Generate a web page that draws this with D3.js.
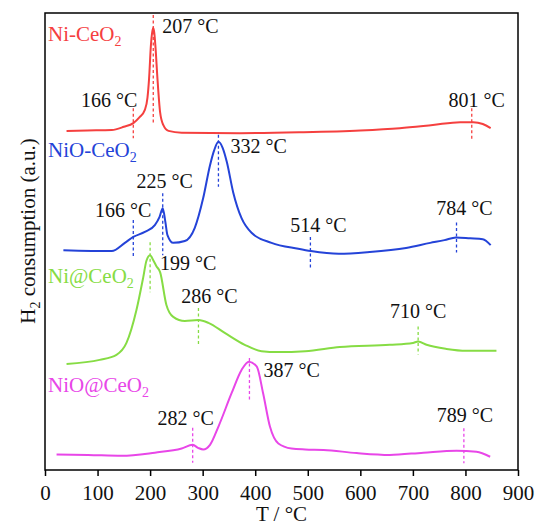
<!DOCTYPE html>
<meta charset="utf-8">
<head>
  <title>H2-TPR</title>
</head>
<style>
body { margin: 0; background: #fff; }
text { font-family: "Liberation Serif", "Times New Roman", serif; }
.curve { fill: none; stroke-width: 2px; }
.peak { stroke-width: 1.3px; stroke-dasharray: 3,2.5; }
</style>
<body>
<script src="https://d3js.org/d3.v7.min.js"></script>
<script>

// --- data (T in °C, signal in a.u.) ---
var names = ["Ni-CeO", "NiO-CeO", "Ni@CeO", "NiO@CeO"];
var colors = ["#f5403f", "#2443d8", "#86dc44", "#e846e8"];

var tNiCeO2 =  [41, 80, 127, 150, 168, 180, 190, 195, 198, 201.5, 204, 206, 208, 210, 214, 219, 225, 235, 260, 371, 485, 600, 675, 738, 790, 815, 833, 848];
var vNiCeO2 =  [74.2, 74.3, 74.4, 75.1, 75.9, 77.2, 78.8, 81.5, 85.6, 92.9, 95.8, 96.7, 95.6, 92.9, 85.6, 78.3, 75.5, 74.2, 73.8, 73.7, 73.9, 74.3, 74.8, 75.5, 76.1, 76.1, 75.7, 74.8];

var tNiOCeO2 = [35, 127, 152, 168, 190, 209, 218, 224, 229, 233, 244, 266, 285, 301, 314, 322, 330, 338, 346, 358, 374, 393, 431, 482, 506, 559, 618, 687, 733, 760, 782, 809, 833, 848];
var vNiOCeO2 = [48.1, 47.9, 49.7, 51.0, 52.1, 53.6, 55.4, 57.3, 54.3, 51.4, 49.7, 50.1, 53.0, 59.5, 66.7, 70.0, 71.8, 70.5, 67.4, 60.8, 55.1, 51.9, 49.7, 48.4, 47.9, 47.3, 47.7, 48.6, 49.7, 50.3, 50.9, 50.7, 50.5, 49.2];

var tNiAtCeO2 = [41, 104, 136, 155, 174, 187, 193, 200, 206, 212, 219, 231, 244, 266, 292, 311, 342, 380, 412, 443, 495, 561, 656, 700, 710, 726, 764, 802, 859];
var vNiAtCeO2 = [23.2, 24.1, 25.2, 27.8, 35.0, 42.2, 45.8, 47.0, 45.9, 44.6, 43.3, 36.1, 33.5, 32.6, 32.8, 32.2, 30.0, 27.4, 26.0, 25.8, 26.0, 26.9, 27.4, 27.8, 28.1, 27.4, 26.5, 26.1, 26.1];

var tNiOAtCeO2 = [22, 82, 146, 209, 260, 281, 292, 301, 314, 330, 355, 374, 388, 403, 415, 428, 444, 469, 495, 530, 593, 656, 720, 783, 821, 847];
var vNiOAtCeO2 = [3.4, 3.3, 3.1, 3.8, 4.7, 5.5, 4.8, 4.5, 5.5, 9.5, 16.8, 21.9, 23.7, 22.6, 16.8, 9.5, 5.8, 4.7, 4.5, 4.4, 3.7, 3.3, 3.8, 4.2, 4.0, 2.9];

// peak markers: where the dashed line sits, and the printed label
var peakT = [[168, 206, 812], [168, 224, 330, 505, 783], [200, 292, 710], [281, 389, 797]];
var peakLabels = [["166 °C", "207 °C", "801 °C"], ["166 °C", "225 °C", "332 °C", "514 °C", "784 °C"], ["199 °C", "286 °C", "710 °C"], ["282 °C", "387 °C", "789 °C"]];

var xTicks = [0, 100, 200, 300, 400, 500, 600, 700, 800, 900];

// --- layout (px): dash above/below curve, label anchor, dx, dy from dash top ---
var peakLayout = [
  [[15, 15, "end", 4, -1], [13, 97, "start", 9, 18], [14, 18, "middle", 5, -1]],
  [[17, 21, "middle", -10, -3], [15, 47, "middle", 2, -5], [7, 45, "start", 12, 18], [14, 17, "middle", 8, -5], [15, 15, "middle", 8, -7]],
  [[13, 37, "start", 10, 28], [12, 25, "middle", 11, -5], [15, 13, "middle", 0, -9]],
  [[17, 18, "middle", -7, -3], [4, 38, "start", 14, 19], [23, 12, "middle", 1, -6]]
];
var nameBaseline = [41, 157, 283, 392];

var width = 536, height = 525;
var m = {left: 45, top: 13, right: 518, bottom: 470};

var svg = d3.select("body").append("svg")
    .attr("width", width)
    .attr("height", height);

var x = d3.scaleLinear().domain([0, 900]).range([m.left, m.right]);
var y = d3.scaleLinear().domain([0, 100]).range([m.bottom, m.top]);

var series = [
  d3.zip(tNiCeO2, vNiCeO2),
  d3.zip(tNiOCeO2, vNiOCeO2),
  d3.zip(tNiAtCeO2, vNiAtCeO2),
  d3.zip(tNiOAtCeO2, vNiOAtCeO2)
];

var line = d3.line()
    .x(function(d) { return x(d[0]); })
    .y(function(d) { return y(d[1]); })
    .curve(d3.curveMonotoneX);

// value of a series at T (linear between points)
function valueAt(s, t) {
  var i = d3.bisector(function(d) { return d[0]; }).left(s, t);
  if (i <= 0) return s[0][1];
  if (i >= s.length) return s[s.length - 1][1];
  var a = s[i - 1], b = s[i];
  return a[1] + (b[1] - a[1]) * (t - a[0]) / (b[0] - a[0]);
}

series.forEach(function(s, k) {
  svg.append("path")
    .datum(s)
    .attr("class", "curve")
    .attr("stroke", colors[k])
    .attr("d", line);

  peakT[k].forEach(function(t, j) {
    var L = peakLayout[k][j];
    var cy = y(valueAt(s, t));
    var px = x(t);
    svg.append("line")
      .attr("class", "peak")
      .attr("stroke", colors[k])
      .attr("x1", px).attr("x2", px)
      .attr("y1", cy - L[0]).attr("y2", cy + L[1]);
    svg.append("text")
      .attr("x", px + L[3])
      .attr("y", cy - L[0] + L[4])
      .attr("text-anchor", L[2])
      .attr("font-size", "20px")
      .attr("fill", "#111")
      .text(peakLabels[k][j]);
  });

  var t = svg.append("text")
    .attr("x", m.left + 3)
    .attr("y", nameBaseline[k])
    .attr("font-size", "21px")
    .attr("fill", colors[k]);
  t.append("tspan").text(names[k]);
  t.append("tspan").attr("font-size", "14px").attr("dy", 5).text("2");
});

// axis
var xAxis = d3.axisBottom(x).tickValues(xTicks).tickSize(6).tickPadding(9).tickSizeOuter(0);
var ax = svg.append("g")
    .attr("transform", "translate(0," + m.bottom + ")")
    .call(xAxis);
ax.select(".domain").remove();
ax.selectAll(".tick line").attr("stroke", "#000").attr("stroke-width", 1.5);
ax.selectAll(".tick text")
    .attr("font-family", "Liberation Serif, serif")
    .attr("font-size", "21px")
    .attr("fill", "#111");

// frame
svg.append("rect")
    .attr("x", m.left).attr("y", m.top)
    .attr("width", m.right - m.left).attr("height", m.bottom - m.top)
    .attr("fill", "none")
    .attr("stroke", "#000")
    .attr("stroke-width", 1.5);

// axis titles
svg.append("text")
    .attr("x", (m.left + m.right) / 2)
    .attr("y", 521)
    .attr("text-anchor", "middle")
    .attr("font-size", "21px")
    .attr("fill", "#111")
    .text("T / °C");

var yl = svg.append("text")
    .attr("transform", "translate(35,231) rotate(-90)")
    .attr("text-anchor", "middle")
    .attr("font-size", "21px")
    .attr("fill", "#111");
yl.append("tspan").text("H");
yl.append("tspan").attr("font-size", "14px").attr("dy", 5).text("2");
yl.append("tspan").attr("dy", -5).text(" consumption (a.u.)");

</script>
</body>
